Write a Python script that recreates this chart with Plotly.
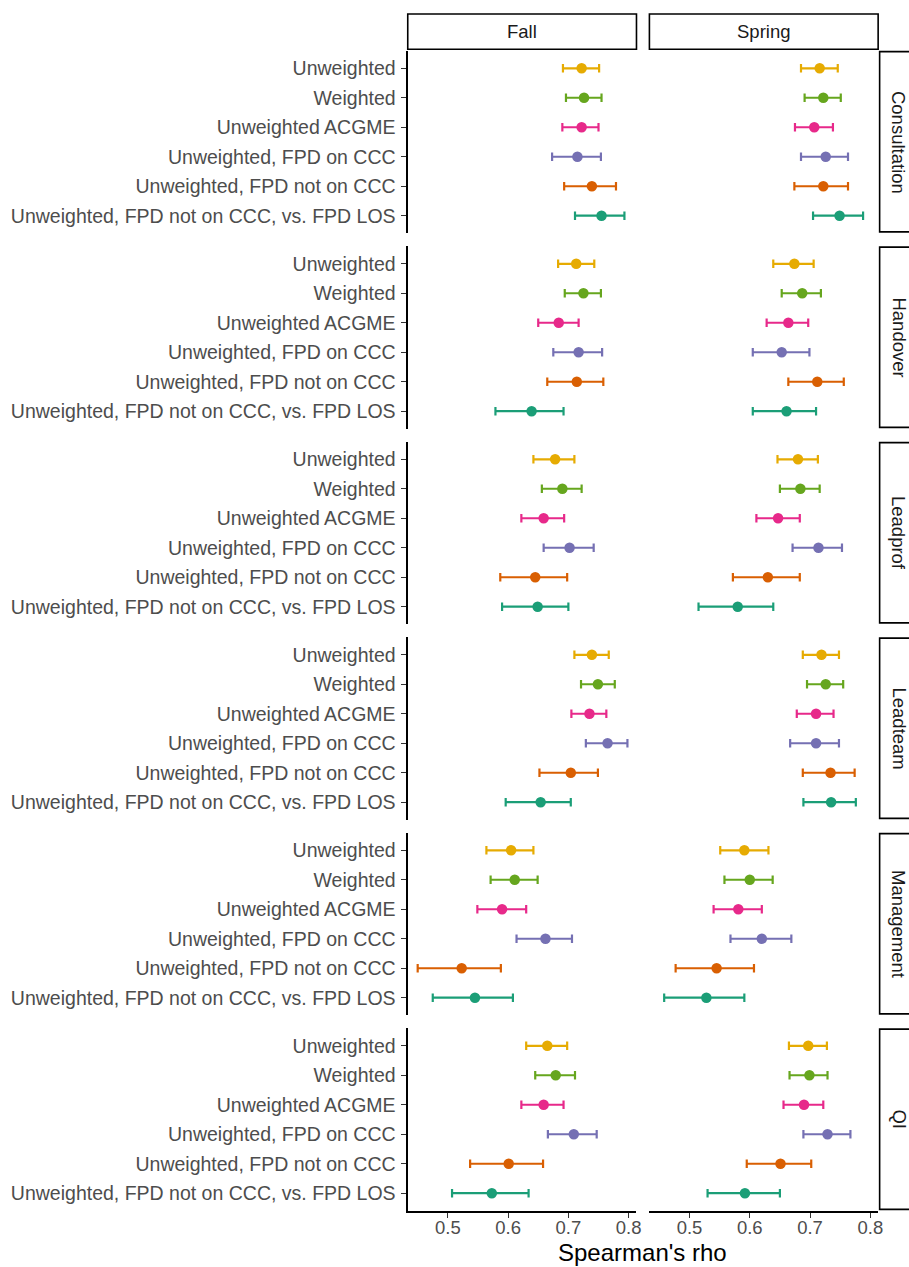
import plotly.graph_objects as go

# ---------------- data ----------------
methods = [
    "Unweighted",
    "Weighted",
    "Unweighted ACGME",
    "Unweighted, FPD on CCC",
    "Unweighted, FPD not on CCC",
    "Unweighted, FPD not on CCC, vs. FPD LOS",
]
method_colors = ["#E6AB02", "#66A61E", "#E7298A", "#7570B3", "#D95F02", "#1B9E77"]
domains = ["Consultation", "Handover", "Leadprof", "Leadteam", "Management", "QI"]
seasons = ["Fall", "Spring"]

fall_rho = {
    "Consultation": [0.722, 0.726, 0.722, 0.715, 0.739, 0.755],
    "Handover":     [0.713, 0.725, 0.684, 0.717, 0.714, 0.639],
    "Leadprof":     [0.678, 0.690, 0.659, 0.702, 0.645, 0.649],
    "Leadteam":     [0.739, 0.749, 0.735, 0.765, 0.704, 0.654],
    "Management":   [0.605, 0.611, 0.590, 0.662, 0.523, 0.545],
    "QI":           [0.665, 0.679, 0.659, 0.709, 0.601, 0.573],
}
fall_lo = {
    "Consultation": [0.691, 0.696, 0.690, 0.673, 0.693, 0.711],
    "Handover":     [0.683, 0.694, 0.650, 0.675, 0.665, 0.579],
    "Leadprof":     [0.642, 0.656, 0.622, 0.659, 0.587, 0.590],
    "Leadteam":     [0.710, 0.721, 0.705, 0.729, 0.652, 0.596],
    "Management":   [0.564, 0.571, 0.549, 0.614, 0.450, 0.475],
    "QI":           [0.630, 0.645, 0.622, 0.666, 0.537, 0.507],
}
fall_hi = {
    "Consultation": [0.751, 0.755, 0.750, 0.754, 0.779, 0.793],
    "Handover":     [0.743, 0.754, 0.717, 0.756, 0.758, 0.692],
    "Leadprof":     [0.710, 0.722, 0.693, 0.742, 0.698, 0.700],
    "Leadteam":     [0.767, 0.777, 0.763, 0.798, 0.749, 0.704],
    "Management":   [0.642, 0.649, 0.630, 0.706, 0.588, 0.608],
    "QI":           [0.698, 0.711, 0.692, 0.747, 0.658, 0.634],
}
spring_rho = {
    "Consultation": [0.716, 0.722, 0.707, 0.726, 0.722, 0.749],
    "Handover":     [0.674, 0.687, 0.664, 0.653, 0.712, 0.661],
    "Leadprof":     [0.680, 0.684, 0.647, 0.714, 0.630, 0.580],
    "Leadteam":     [0.719, 0.726, 0.710, 0.710, 0.734, 0.735],
    "Management":   [0.591, 0.600, 0.581, 0.620, 0.545, 0.528],
    "QI":           [0.697, 0.699, 0.690, 0.729, 0.651, 0.592],
}
spring_lo = {
    "Consultation": [0.685, 0.691, 0.675, 0.685, 0.674, 0.705],
    "Handover":     [0.639, 0.653, 0.628, 0.605, 0.664, 0.605],
    "Leadprof":     [0.646, 0.650, 0.611, 0.671, 0.572, 0.515],
    "Leadteam":     [0.688, 0.695, 0.678, 0.667, 0.688, 0.689],
    "Management":   [0.551, 0.558, 0.540, 0.568, 0.477, 0.458],
    "QI":           [0.665, 0.666, 0.656, 0.689, 0.595, 0.530],
}
spring_hi = {
    "Consultation": [0.746, 0.751, 0.738, 0.763, 0.763, 0.788],
    "Handover":     [0.706, 0.718, 0.697, 0.699, 0.756, 0.710],
    "Leadprof":     [0.713, 0.716, 0.683, 0.753, 0.683, 0.639],
    "Leadteam":     [0.748, 0.755, 0.739, 0.748, 0.774, 0.776],
    "Management":   [0.631, 0.638, 0.620, 0.669, 0.607, 0.591],
    "QI":           [0.728, 0.729, 0.722, 0.767, 0.702, 0.650],
}
x_ticks = [0.5, 0.6, 0.7, 0.8]
x_range = [0.4335, 0.813]

season_data = {
    "Fall": (fall_rho, fall_lo, fall_hi),
    "Spring": (spring_rho, spring_lo, spring_hi),
}

# ---------------- layout geometry (pixels) ----------------
W, H = 909, 1267
DX = 3.0
col_px = [(407.0 + DX, 637.0 + DX), (650.0 + DX, 880.0 + DX)]
panel_top0 = 50.6
panel_h = 182.8
row_step = 195.5
strip_top = (14.0, 49.3)
strip_right = (881.5 + DX, 920.0)

def px_x(p):
    return p / W

def px_y(p):
    return 1 - p / H

fig = go.Figure()
layout = dict(
    width=W, height=H,
    margin=dict(l=0, r=0, t=0, b=0),
    paper_bgcolor="white", plot_bgcolor="white",
    showlegend=False,
    font=dict(family="Liberation Sans, Arial, sans-serif"),
)
shapes = []
annotations = []

k = 0
for r, dom in enumerate(domains):
    top = panel_top0 + r * row_step
    bot = top + panel_h
    for c, season in enumerate(seasons):
        k += 1
        xa = "x" if k == 1 else f"x{k}"
        ya = "y" if k == 1 else f"y{k}"
        rho, lo, hi = season_data[season]
        vals = rho[dom]
        for i, m in enumerate(methods):
            fig.add_trace(go.Scatter(
                x=[vals[i]], y=[m],
                mode="markers",
                marker=dict(color=method_colors[i], size=10.5, line=dict(width=0)),
                error_x=dict(type="data", symmetric=False,
                             array=[hi[dom][i] - vals[i]],
                             arrayminus=[vals[i] - lo[dom][i]],
                             color=method_colors[i], thickness=2.2, width=4.3),
                xaxis=xa, yaxis=ya,
                hoverinfo="skip",
            ))
        bottom_row = (r == len(domains) - 1)
        left_col = (c == 0)
        layout["xaxis" if k == 1 else f"xaxis{k}"] = dict(
            domain=[px_x(col_px[c][0]), px_x(col_px[c][1])],
            anchor=ya,
            range=x_range,
            tickvals=x_ticks,
            ticktext=[f"{v:.1f}" for v in x_ticks],
            showticklabels=bottom_row,
            ticks="outside" if bottom_row else "",
            ticklen=5, tickwidth=1.4, tickcolor="#333333",
            ticklabelstandoff=-6,
            tickfont=dict(size=18.5, color="#4D4D4D"),
            showline=bottom_row, linecolor="black", linewidth=1.5,
            showgrid=False, zeroline=False,
        )
        layout["yaxis" if k == 1 else f"yaxis{k}"] = dict(
            domain=[px_y(bot), px_y(top)],
            anchor=xa,
            type="category",
            categoryorder="array", categoryarray=methods,
            range=[5.6, -0.6],
            showticklabels=left_col,
            ticks="outside" if left_col else "",
            ticklen=4.5, tickwidth=1.4, tickcolor="#333333",
            ticklabelstandoff=2,
            tickfont=dict(size=19.5, color="#4D4D4D"),
            showline=left_col, linecolor="black", linewidth=1.5,
            showgrid=False, zeroline=False,
        )
    # right strip
    shapes.append(dict(type="rect", xref="paper", yref="paper",
                       x0=px_x(strip_right[0]), x1=px_x(strip_right[1]),
                       y0=px_y(bot - 1.5), y1=px_y(top + 1.0),
                       line=dict(color="black", width=1.6), fillcolor="white", layer="below"))
    annotations.append(dict(xref="paper", yref="paper",
                            x=px_x(901.0 + DX), y=px_y((top + bot) / 2),
                            text=dom, textangle=90, showarrow=False,
                            font=dict(size=18.5, color="#1A1A1A"),
                            xanchor="center", yanchor="middle"))

# top strips
for c, season in enumerate(seasons):
    shapes.append(dict(type="rect", xref="paper", yref="paper",
                       x0=px_x(col_px[c][0]), x1=px_x(col_px[c][1]),
                       y0=px_y(strip_top[1]), y1=px_y(strip_top[0]),
                       line=dict(color="black", width=1.6), fillcolor="white", layer="below"))
    annotations.append(dict(xref="paper", yref="paper",
                            x=px_x((col_px[c][0] + col_px[c][1]) / 2),
                            y=px_y((strip_top[0] + strip_top[1]) / 2),
                            text=season, showarrow=False,
                            font=dict(size=18.5, color="#1A1A1A"),
                            xanchor="center", yanchor="middle"))

# x-axis title
annotations.append(dict(xref="paper", yref="paper",
                        x=px_x((col_px[0][0] + col_px[1][1]) / 2), y=px_y(1252),
                        text="Spearman's rho", showarrow=False,
                        font=dict(size=24, color="black"),
                        xanchor="center", yanchor="middle"))

layout["shapes"] = shapes
layout["annotations"] = annotations
fig.update_layout(**layout)
fig.write_html(
    "out.html",
    config={"displayModeBar": False},
    post_script="document.body.style.margin='0';document.body.style.padding='0';"
                "document.documentElement.style.overflow='hidden';",
)
